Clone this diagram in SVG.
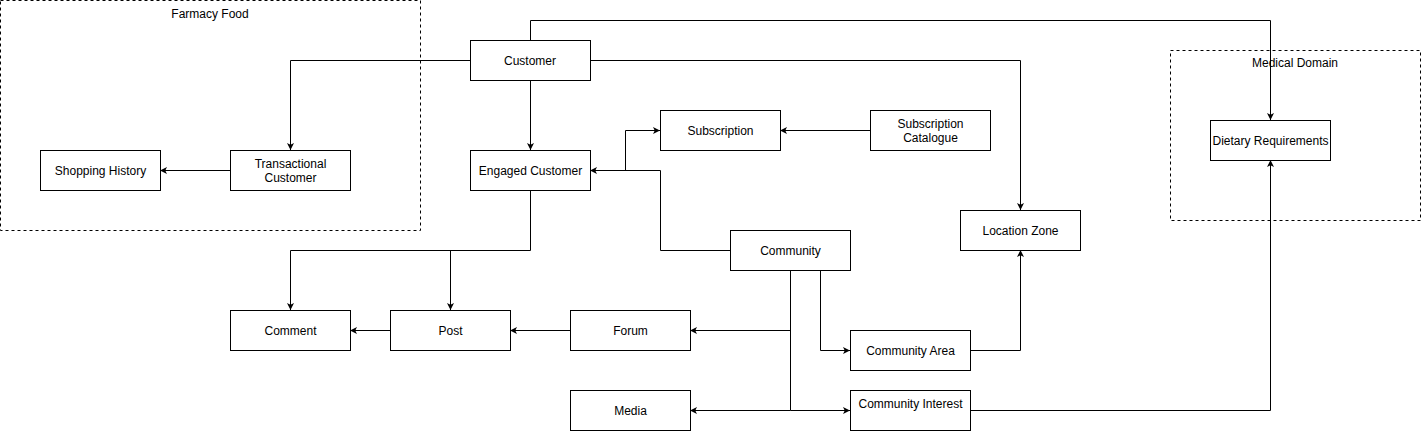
<svg xmlns="http://www.w3.org/2000/svg" width="1421" height="431" viewBox="0 0 1421 431">
<style>
.n{fill:#fff;stroke:#000;stroke-width:1}
.g{fill:none;stroke:#000;stroke-width:1;stroke-dasharray:3 3}
.t{font-family:"Liberation Sans",Arial,sans-serif;font-size:12px;fill:#000;text-anchor:middle;dominant-baseline:central}
.e{fill:none;stroke:#000;stroke-width:1;marker-end:url(#a)}
.l{fill:none;stroke:#000;stroke-width:1}
</style>
<defs>
<marker id="a" viewBox="0 0 10 10" refX="10" refY="5" markerWidth="7" markerHeight="7" markerUnits="userSpaceOnUse" orient="auto">
<path d="M0,0 L10,5 L0,10 L2.5,5 Z" fill="#000"/>
</marker>
</defs>
<rect width="1421" height="431" fill="#fff"/>
<g id="farmacy-food">
<rect class="g" x="0.5" y="0.5" width="420" height="230"/>
<text class="t" x="210" y="14">Farmacy Food</text>
</g>
<g id="medical-domain">
<rect class="g" x="1170.5" y="50.5" width="250" height="170"/>
<text class="t" x="1295" y="63">Medical Domain</text>
</g>
<g id="connectors">
<path class="e" d="M470.5,60.5 H290.5 V150"/>
<path class="e" d="M530.5,80 V150"/>
<path class="e" d="M530.5,40 V20.5 H1270.5 V120"/>
<path class="e" d="M590,60.5 H1020.5 V210"/>
<path class="e" d="M230,170.5 H160"/>
<path class="e" d="M870,130.5 H780"/>
<path class="e" d="M730,250.5 H660.5 V170.5 H590"/>
<path class="e" d="M625.5,170.5 V130.5 H660"/>
<path class="e" d="M530.5,190 V250.5 H290.5 V310"/>
<path class="e" d="M450.5,250.5 V310"/>
<path class="e" d="M390,330.5 H350"/>
<path class="e" d="M570,330.5 H510"/>
<path class="e" d="M790.5,270 V330.5 H690"/>
<path class="e" d="M790.5,330 V410.5 H690"/>
<path class="e" d="M790.5,410.5 H850"/>
<path class="e" d="M820.5,270 V350.5 H850"/>
<path class="e" d="M970,350.5 H1020.5 V250"/>
<path class="e" d="M970,410.5 H1270.5 V160"/>
</g>
<g id="customer"><rect class="n" x="470.5" y="40.5" width="120" height="40"/><text class="t" x="530" y="60.5">Customer</text></g>
<g id="transactional-customer"><rect class="n" x="230.5" y="150.5" width="120" height="40"/><text class="t" x="290.5" y="163.5">Transactional</text><text class="t" x="290.5" y="177.5">Customer</text></g>
<g id="shopping-history"><rect class="n" x="40.5" y="150.5" width="120" height="40"/><text class="t" x="100.5" y="170.5">Shopping History</text></g>
<g id="engaged-customer"><rect class="n" x="470.5" y="150.5" width="120" height="40"/><text class="t" x="530.5" y="170.5">Engaged Customer</text></g>
<g id="subscription"><rect class="n" x="660.5" y="110.5" width="120" height="40"/><text class="t" x="720.5" y="130.5">Subscription</text></g>
<g id="subscription-catalogue"><rect class="n" x="870.5" y="110.5" width="120" height="40"/><text class="t" x="930.5" y="123.5">Subscription</text><text class="t" x="930.5" y="137.5">Catalogue</text></g>
<g id="community"><rect class="n" x="730.5" y="230.5" width="120" height="40"/><text class="t" x="790.5" y="250.5">Community</text></g>
<g id="location-zone"><rect class="n" x="960.5" y="210.5" width="120" height="40"/><text class="t" x="1020.5" y="230.5">Location Zone</text></g>
<g id="dietary-requirements"><rect class="n" x="1210.5" y="120.5" width="120" height="40"/><text class="t" x="1270.5" y="140.5">Dietary Requirements</text></g>
<g id="comment"><rect class="n" x="230.5" y="310.5" width="120" height="40"/><text class="t" x="290.5" y="330.5">Comment</text></g>
<g id="post"><rect class="n" x="390.5" y="310.5" width="120" height="40"/><text class="t" x="450.5" y="330.5">Post</text></g>
<g id="forum"><rect class="n" x="570.5" y="310.5" width="120" height="40"/><text class="t" x="630.5" y="330.5">Forum</text></g>
<g id="community-area"><rect class="n" x="850.5" y="330.5" width="120" height="40"/><text class="t" x="910.5" y="350.5">Community Area</text></g>
<g id="media"><rect class="n" x="570.5" y="390.5" width="120" height="40"/><text class="t" x="630.5" y="410.5">Media</text></g>
<g id="community-interest"><rect class="n" x="850.5" y="390.5" width="120" height="40"/><text class="t" x="910.5" y="403.5">Community Interest</text></g>
</svg>
